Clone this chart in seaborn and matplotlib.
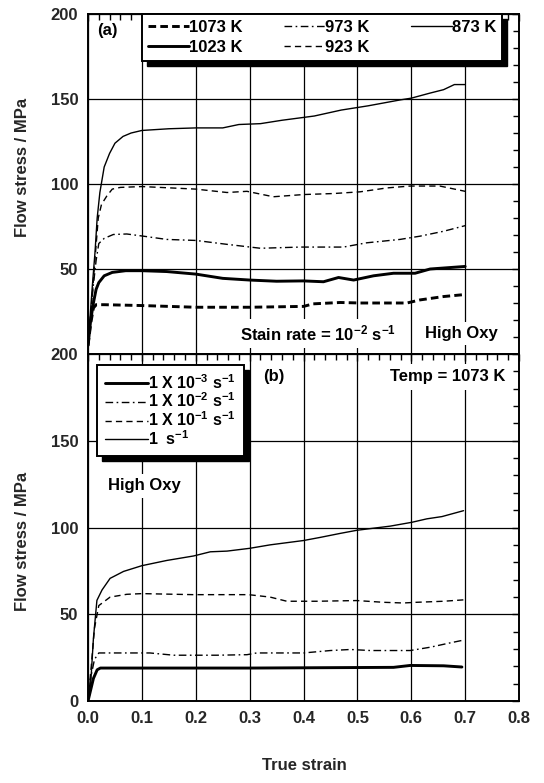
import numpy as np
import pandas as pd
import seaborn as sns
import matplotlib
matplotlib.use("Agg")
import matplotlib.pyplot as plt
from matplotlib.ticker import MultipleLocator
from matplotlib.patches import Rectangle
from matplotlib.transforms import ScaledTranslation

# ---------------- data: panel (a), strain rate 1e-2 s^-1 ----------------
strain_873 = [0, 0.008, 0.013, 0.017, 0.022, 0.03, 0.04, 0.05, 0.065, 0.08, 0.1, 0.15, 0.2,
              0.25, 0.28, 0.32, 0.36, 0.42, 0.47, 0.52, 0.58, 0.6, 0.635, 0.66, 0.68, 0.7]
stress_873 = [5, 40, 60, 80, 95, 110, 118, 124, 128, 130, 131.5, 132.5, 133,
              133, 135, 135.5, 137.5, 140, 143.5, 146, 149.5, 150.5, 153.5, 155.5, 158.5, 158.5]

strain_923 = [0, 0.008, 0.014, 0.019, 0.025, 0.035, 0.045, 0.06, 0.1, 0.2, 0.258, 0.295,
              0.344, 0.4, 0.456, 0.505, 0.555, 0.598, 0.653, 0.7]
stress_923 = [5, 35, 60, 80, 88, 93, 97, 98, 98.5, 97, 95, 95.7,
              92.5, 93.8, 94.4, 95.4, 97.7, 98.8, 98.8, 95.7]

strain_973 = [0, 0.008, 0.015, 0.02, 0.03, 0.047, 0.072, 0.103, 0.146, 0.2, 0.258, 0.32,
              0.394, 0.474, 0.517, 0.579, 0.616, 0.66, 0.7]
stress_973 = [5, 35, 55, 65, 68, 70.3, 70.6, 69.3, 67.4, 66.8, 64.5, 62.2,
              62.9, 62.9, 65.4, 67.4, 69.3, 72.2, 75.5]

strain_1023 = [0, 0.005, 0.01, 0.015, 0.02, 0.03, 0.045, 0.07, 0.1, 0.146, 0.2, 0.25, 0.3,
               0.35, 0.4, 0.437, 0.465, 0.493, 0.53, 0.567, 0.607, 0.635, 0.7]
stress_1023 = [5, 20, 30, 38, 42, 46, 48, 49, 49, 48.5, 47, 44.5, 43.5,
               42.8, 43, 42.5, 45, 43.5, 46, 47.5, 47.5, 50, 51.5]

strain_1073 = [0, 0.005, 0.01, 0.015, 0.03, 0.1, 0.2, 0.3, 0.4, 0.418, 0.468, 0.505,
               0.592, 0.616, 0.66, 0.7]
stress_1073 = [5, 18, 27, 29, 29, 28.5, 27.5, 27.5, 28, 29.5, 30.3, 30,
               30, 31.8, 33.8, 35]

# ---------------- data: panel (b), T = 1073 K ----------------
strain_r1 = [0, 0.004, 0.010, 0.0165, 0.026, 0.041, 0.066, 0.1, 0.146, 0.196, 0.227, 0.258,
             0.3, 0.338, 0.4, 0.431, 0.468, 0.499, 0.561, 0.601, 0.629, 0.657, 0.697]
stress_r1 = [0, 5, 36, 58, 64, 70.7, 74.7, 78, 81, 83.6, 86, 86.4,
             88, 90, 92.5, 94.3, 96.6, 98.4, 100.8, 103, 105, 106.3, 109.7]

strain_r01 = [0, 0.006, 0.012, 0.02, 0.041, 0.072, 0.1, 0.196, 0.298, 0.338, 0.369, 0.425,
              0.499, 0.548, 0.585, 0.61, 0.66, 0.697]
stress_r01 = [0, 20, 42, 55, 59.9, 61.5, 61.9, 61.3, 61.3, 59.9, 57.5, 57.5,
              57.9, 56.9, 56.5, 56.9, 57.5, 58.3]

strain_r001 = [0, 0.004, 0.012, 0.02, 0.054, 0.115, 0.159, 0.239, 0.295, 0.313, 0.4, 0.45,
               0.487, 0.524, 0.598, 0.635, 0.672, 0.697]
stress_r001 = [0, 12, 24, 27.7, 27.7, 27.7, 26.4, 26.4, 26.7, 27.7, 27.7, 29.1,
               29.7, 29.1, 29.1, 31, 33.5, 35.1]

strain_r0001 = [0, 0.01, 0.017, 0.023, 0.054, 0.3, 0.567, 0.598, 0.66, 0.694]
stress_r0001 = [0, 13, 18, 19, 19, 19, 19.4, 20.5, 20.3, 19.6]

labels_a = ["1073 K", "1023 K", "973 K", "923 K", "873 K"]
labels_b = [r"1 X 10$^{-3}$ s$^{-1}$", r"1 X 10$^{-2}$ s$^{-1}$",
            r"1 X 10$^{-1}$ s$^{-1}$", r"1  s$^{-1}$"]
x_ticks = [0.0, 0.1, 0.2, 0.3, 0.4, 0.5, 0.6, 0.7, 0.8]
y_ticks = [0, 50, 100, 150, 200]

# ---------------- style ----------------
sns.set_style("white")
plt.rcParams["font.family"] = ["Liberation Sans", "DejaVu Sans"]
plt.rcParams["font.weight"] = "bold"
plt.rcParams["mathtext.fontset"] = "custom"
plt.rcParams["mathtext.rm"] = "Liberation Sans:bold"
plt.rcParams["mathtext.it"] = "Liberation Sans:bold:italic"
plt.rcParams["mathtext.bf"] = "Liberation Sans:bold"
plt.rcParams["lines.scale_dashes"] = False
plt.rcParams["axes.edgecolor"] = "black"
plt.rcParams["text.color"] = "black"
plt.rcParams["axes.labelweight"] = "bold"

FS = 12

fig = plt.figure(figsize=(5.44, 7.83), dpi=100)
ax_a = fig.add_axes([0.1618, 0.5479, 0.7923, 0.4342])
ax_b = fig.add_axes([0.1618, 0.1047, 0.7923, 0.4432])

THICK, THIN = 2.1, 1.0
DASH = (0, (5.5, 3.0))
THINDASH = (0, (4.5, 3.0))
DASHDOT = (0, (5.5, 2.5, 1.2, 2.5))

series_a = [
    (strain_1073, stress_1073, labels_a[0], THICK, DASH),
    (strain_1023, stress_1023, labels_a[1], THICK, "-"),
    (strain_973, stress_973, labels_a[2], THIN, DASHDOT),
    (strain_923, stress_923, labels_a[3], THIN, THINDASH),
    (strain_873, stress_873, labels_a[4], THIN, "-"),
]
series_b = [
    (strain_r0001, stress_r0001, labels_b[0], THICK, "-"),
    (strain_r001, stress_r001, labels_b[1], THIN, DASHDOT),
    (strain_r01, stress_r01, labels_b[2], THIN, THINDASH),
    (strain_r1, stress_r1, labels_b[3], THIN, "-"),
]

for ax, series in ((ax_a, series_a), (ax_b, series_b)):
    for xs, ys, lab, lw, ls in series:
        df = pd.DataFrame({"strain": xs, "stress": ys})
        sns.lineplot(data=df, x="strain", y="stress", ax=ax, color="black",
                     linewidth=lw, linestyle=ls, label=lab,
                     estimator=None, sort=False, legend=False)

for ax in (ax_a, ax_b):
    ax.set_xlim(0, 0.8)
    ax.set_ylim(0, 200)
    ax.set_xticks(x_ticks)
    ax.set_yticks(y_ticks)
    ax.xaxis.set_minor_locator(MultipleLocator(0.02))
    ax.yaxis.set_minor_locator(MultipleLocator(10))
    ax.tick_params(which="both", direction="in", top=True, right=True,
                   color="black", labelsize=FS, pad=7)
    ax.tick_params(which="major", length=5, width=1.0)
    ax.tick_params(which="minor", length=4, width=1.0)
    ax.grid(True, which="major", color="black", linewidth=0.9)
    for s in ax.spines.values():
        s.set_linewidth(1.4)
        s.set_color("black")
    ax.set_ylabel("Flow stress / MPa", fontsize=FS, fontweight="bold")
    ax.set_xlabel("")

ax_a.tick_params(labelbottom=False)
ax_a.set_yticklabels(["", "50", "100", "150", "200"], fontweight="bold")
ax_b.set_yticklabels(["0", "50", "100", "150", "200"], fontweight="bold")
ax_b.set_xticklabels(["0.0", "0.1", "0.2", "0.3", "0.4", "0.5", "0.6", "0.7", "0.8"],
                     fontweight="bold")
ax_b.set_xlabel("True strain", fontsize=FS, fontweight="bold")
ax_b.xaxis.set_label_coords(0.503, -0.165)
ax_a.yaxis.set_label_coords(-0.135, 0.55)
ax_b.yaxis.set_label_coords(-0.135, 0.46)

# annotations
ax_a.text(0.02, 0.975, "(a)", transform=ax_a.transAxes, fontsize=FS, va="top", ha="left")
ax_a.text(0.282, 12, r"Stain rate = 10$^{-2}$ s$^{-1}$", fontsize=FS, va="center", ha="left",
          bbox=dict(facecolor="white", edgecolor="none", pad=3))
ax_a.text(0.625, 12, "High Oxy", fontsize=FS, va="center", ha="left",
          bbox=dict(facecolor="white", edgecolor="none", pad=3))
ax_b.text(0.325, 187, "(b)", fontsize=FS, va="center", ha="left")
ax_b.text(0.775, 187, "Temp = 1073 K", fontsize=FS, va="center", ha="right",
          bbox=dict(facecolor="white", edgecolor="none", pad=4))
ax_b.text(0.037, 124, "High Oxy", fontsize=FS, va="center", ha="left",
          bbox=dict(facecolor="white", edgecolor="none", pad=3))

# legends
h, l = ax_a.get_legend_handles_labels()
leg_a = ax_a.legend(h, l, ncol=3, loc="upper left", bbox_to_anchor=(0.125, 1.0),
                    borderaxespad=0, prop={"size": FS, "weight": "bold"}, frameon=True,
                    fancybox=False, framealpha=1, edgecolor="black", handlelength=2.5,
                    handletextpad=0.0, columnspacing=2.45, labelspacing=0.3,
                    borderpad=0.35)
leg_a.get_frame().set_linewidth(1.4)

h, l = ax_b.get_legend_handles_labels()
leg_b = ax_b.legend(h, l, ncol=1, loc="upper left", bbox_to_anchor=(0.021, 0.968),
                    borderaxespad=0, prop={"size": FS - 0.5, "weight": "bold"}, frameon=True,
                    fancybox=False, framealpha=1, edgecolor="black", handlelength=2.7,
                    handletextpad=0.0, labelspacing=0.0, borderpad=0.5)
leg_b.get_frame().set_linewidth(1.4)

# black drop shadows behind the legend frames
fig.canvas.draw()
for ax, leg in ((ax_a, leg_a), (ax_b, leg_b)):
    bb = leg.get_frame().get_window_extent().transformed(ax.transAxes.inverted())
    tr = ax.transAxes + ScaledTranslation(3.5 / 72, -3.5 / 72, fig.dpi_scale_trans)
    shadow = Rectangle((bb.x0, bb.y0), bb.width, bb.height, transform=tr,
                       facecolor="black", edgecolor="black", zorder=leg.get_zorder() - 0.1,
                       clip_on=False)
    ax.add_artist(shadow)
    shadow.set_clip_on(False)

fig.savefig("out.png", dpi=100)
